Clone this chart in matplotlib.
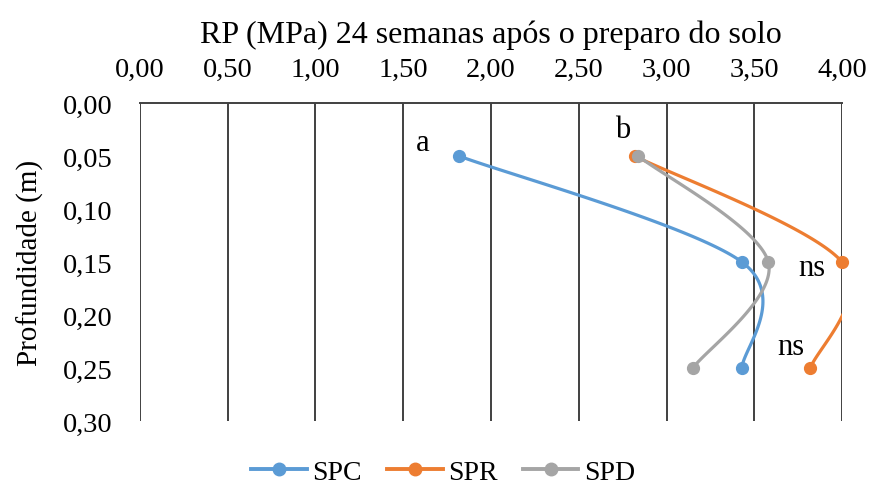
import numpy as np
import matplotlib
matplotlib.use("Agg")
import matplotlib.pyplot as plt
from matplotlib.lines import Line2D

# ---- data ----
depths = [0.05, 0.15, 0.25]
spc = [1.82, 3.43, 3.43]
spr = [2.82, 4.00, 3.82]
spd = [2.84, 3.58, 3.15]
series_names = ["SPC", "SPR", "SPD"]
colors = ["#5B9BD5", "#ED7D31", "#A5A5A5"]
x_ticks = [0.0, 0.5, 1.0, 1.5, 2.0, 2.5, 3.0, 3.5, 4.0]
y_ticks = [0.0, 0.05, 0.10, 0.15, 0.20, 0.25, 0.30]
labels_txt = ["a", "b", "ns", "ns"]
labels_x = [1.61, 2.75, 3.83, 3.71]
labels_y = [0.037, 0.0245, 0.155, 0.230]

plt.rcParams['font.family'] = ['Liberation Serif', 'DejaVu Serif']


def smooth(xs, ys, n=60):
    P = np.column_stack([xs, ys]).astype(float)
    Pe = np.vstack([P[0], P, P[-1]])
    out = []
    for i in range(len(P) - 1):
        p0, p1, p2, p3 = Pe[i], Pe[i + 1], Pe[i + 2], Pe[i + 3]
        c1 = p1 + (p2 - p0) / 6.0
        c2 = p2 - (p3 - p1) / 6.0
        t = np.linspace(0, 1, n)[:, None]
        seg = ((1 - t) ** 3) * p1 + 3 * ((1 - t) ** 2) * t * c1 + 3 * (1 - t) * t ** 2 * c2 + t ** 3 * p2
        out.append(seg if i == 0 else seg[1:])
    s = np.vstack(out)
    return s[:, 0], s[:, 1]


fig = plt.figure(figsize=(8.69, 4.89), dpi=100)
ax = fig.add_axes([0.161, 0.137, 0.808, 0.650])

for vals, c, name in zip([spc, spr, spd], colors, series_names):
    sx, sy = smooth(vals, depths)
    ax.plot(sx, sy, color=c, lw=2.3, solid_capstyle='round', zorder=3)
    ax.plot(vals, depths, 'o', color=c, ms=8.5, clip_on=False, zorder=4)

ax.set_xlim(0, 4)
ax.set_ylim(0.30, 0)
ax.xaxis.tick_top()
ax.xaxis.set_label_position('top')
ax.set_xticks(x_ticks)
ax.set_yticks(y_ticks)
ax.set_xticklabels([f"{v:.2f}".replace('.', ',') for v in x_ticks], fontsize=20.5)
ax.set_yticklabels([f"{v:.2f}".replace('.', ',') for v in y_ticks], fontsize=20.5)
ax.tick_params(axis='y', length=0, pad=20)
ax.tick_params(axis='x', length=0, pad=15)
for v in x_ticks:
    ax.axvline(v, color='#404040', lw=1.4, zorder=1)
for s in ['bottom', 'right', 'left']:
    ax.spines[s].set_visible(False)
ax.spines['top'].set_color('#404040')
ax.spines['top'].set_linewidth(1.4)

ax.set_xlabel("RP (MPa) 24 semanas após o preparo do solo", fontsize=23, labelpad=11)
ax.set_ylabel("Profundidade (m)", fontsize=21, labelpad=13)

for t, x, y in zip(labels_txt, labels_x, labels_y):
    ax.text(x, y, t, fontsize=22, ha='center', va='center', zorder=5)

handles = [Line2D([0], [0], color=c, lw=2.8, marker='o', ms=9) for c in colors]
fig.legend(handles, series_names, loc='lower center', bbox_to_anchor=(0.51, -0.045), ncol=3,
           frameon=False, fontsize=20, handlelength=2.0, columnspacing=0.9, handletextpad=0.2)

fig.savefig("out.png", dpi=100)
